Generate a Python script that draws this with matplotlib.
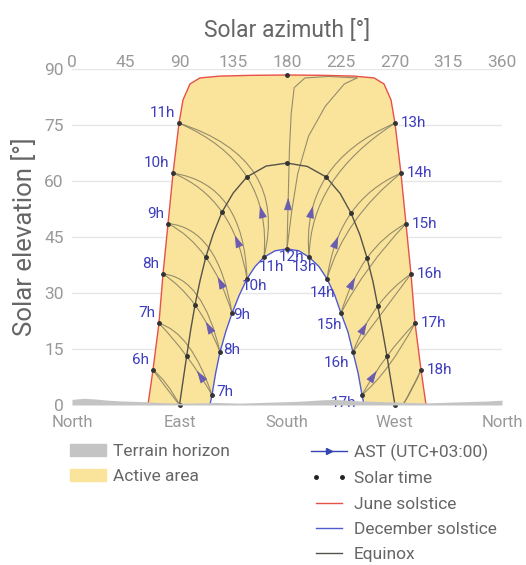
import numpy as np
import matplotlib.pyplot as plt
from matplotlib.path import Path
from matplotlib.patches import PathPatch, Patch
from matplotlib.lines import Line2D
from matplotlib.legend_handler import HandlerLine2D

plt.rcParams['font.family'] = ['Roboto', 'DejaVu Sans']

# Terrain horizon (azimuth, elevation)
terrain_az = [0, 10, 20, 30, 40, 50, 60, 70, 80, 90, 100, 110, 120, 130, 140, 150, 160, 170, 180,
              190, 200, 210, 220, 230, 240, 250, 260, 270, 280, 290, 300, 310, 320, 330, 340, 350, 360]
terrain_el = [1.5, 1.8, 1.6, 1.3, 1.1, 1.0, 0.9, 0.7, 0.6, 0.5, 0.5, 0.6, 0.7, 0.6, 0.5, 0.6, 0.7, 0.8, 0.9,
              1.0, 1.2, 1.4, 1.5, 1.3, 1.1, 1.0, 0.9, 0.8, 0.7, 0.6, 0.6, 0.7, 0.8, 0.9, 1.0, 1.1, 1.3]

# Day paths
june_az = [63.6, 67.8, 72.8, 76.2, 80.4, 84.6, 89.6, 92.9, 98.8, 107.0, 124.0, 150.0, 180.0,
           210.0, 236.0, 253.0, 261.2, 267.1, 270.4, 275.4, 279.6, 283.8, 287.2, 292.2, 296.4]
june_el = [0.0, 9.4, 21.9, 35.1, 48.6, 62.1, 75.5, 81.7, 86.0, 87.6, 88.1, 88.3, 88.4,
           88.3, 88.1, 87.6, 86.0, 81.7, 75.5, 62.1, 48.6, 35.1, 21.9, 9.4, 0.0]

dec_az = [115.5, 117.2, 120.3, 123.9, 128.7, 134.0, 140.0, 146.5, 153.3, 160.7, 170.0, 180.0,
          190.0, 198.5, 206.7, 213.5, 220.0, 225.2, 231.0, 235.2, 239.5, 242.8, 244.5]
dec_el = [0.0, 2.7, 8.6, 14.2, 19.6, 24.6, 29.4, 33.8, 37.1, 39.6, 41.3, 41.8,
          41.3, 39.6, 37.1, 33.8, 29.4, 24.6, 19.6, 14.2, 8.6, 2.7, 0.0]

equinox_az = [90.0, 93.0, 96.0, 99.3, 103.0, 107.2, 112.0, 118.2, 125.6, 135.0, 146.5, 162.5, 180.0,
              197.0, 212.7, 224.6, 233.6, 241.0, 247.0, 252.0, 256.0, 260.0, 263.7, 267.0, 270.4]
equinox_el = [0.0, 6.6, 13.1, 20.0, 26.8, 33.3, 39.6, 45.8, 51.7, 56.8, 61.1, 64.0, 64.8,
              63.9, 61.1, 56.6, 51.4, 45.6, 39.4, 33.0, 26.5, 19.8, 13.1, 6.5, 0.0]

# Solar time dots
june_dots = [(67.8, 9.4), (72.8, 21.9), (76.2, 35.1), (80.4, 48.6), (84.6, 62.1), (89.6, 75.5),
             (180.0, 88.4), (270.4, 75.5), (275.4, 62.1), (279.6, 48.6), (283.8, 35.1),
             (287.2, 21.9), (292.2, 9.4)]
dec_dots = [(117.2, 2.7), (123.9, 14.2), (134.0, 24.6), (146.5, 33.8), (160.7, 39.6), (180.0, 41.8),
            (198.5, 39.6), (213.5, 33.8), (225.2, 24.6), (235.2, 14.2), (242.8, 2.7)]
equinox_dots = [(90.0, 0.0), (96.0, 13.1), (103.0, 26.8), (112.0, 39.6), (125.6, 51.7), (146.5, 61.1),
                (180.0, 64.8), (212.7, 61.1), (233.6, 51.4), (247.0, 39.4), (256.0, 26.5),
                (263.7, 13.1), (270.4, 0.0)]

june_labels = ['6h', '7h', '8h', '9h', '10h', '11h', '', '13h', '14h', '15h', '16h', '17h', '18h']
dec_labels = ['7h', '8h', '9h', '10h', '11h', '12h', '13h', '14h', '15h', '16h', '17h']

# AST hour lines: two branches per hour (start, middle, end)
ast_start = [(67.8, 9.4), (72.8, 21.9), (76.2, 35.1), (80.4, 48.6), (84.6, 62.1), (89.6, 75.5),
             (270.4, 75.5), (275.4, 62.1), (279.6, 48.6), (283.8, 35.1), (287.2, 21.9), (292.2, 9.4)]
ast_mid_a = [(78.2, 4.9), (96.0, 13.1), (103.0, 26.8), (112.0, 39.6), (125.6, 51.7), (146.5, 61.1),
             (212.7, 61.1), (233.6, 51.4), (247.0, 39.4), (256.0, 26.5), (263.7, 13.1), (284.5, 4.4)]
ast_mid_b = [(79.4, 5.5), (97.4, 15.8), (104.8, 29.4), (114.7, 42.0), (129.8, 53.6), (153.2, 61.8),
             (216.9, 59.2), (236.3, 49.0), (248.8, 36.8), (257.5, 23.8), (265.0, 10.5), (285.6, 4.8)]
ast_end = [(90.0, 0.0), (117.2, 2.7), (123.9, 14.2), (134.0, 24.6), (146.5, 33.8), (160.7, 39.6),
           (198.5, 39.6), (213.5, 33.8), (225.2, 24.6), (235.2, 14.2), (242.8, 2.7), (277.0, 0.0)]

# 12h AST line, both branches
noon_a_az = [238.6, 215.0, 195.0, 186.0, 183.5, 182.0, 181.0, 180.0]
noon_a_el = [87.6, 88.0, 87.6, 85.0, 78.0, 68.0, 55.0, 41.8]
noon_b_az = [238.6, 228.0, 212.0, 198.0, 189.0, 184.0, 180.0]
noon_b_el = [87.6, 86.0, 80.0, 72.0, 62.0, 52.0, 41.8]

HOUR_COLOR = '#857d62'
ARROW_COLOR = '#6a5db0'
LABEL_COLOR = '#3d3dbf'
TEXT_COLOR = '#666666'
PX = 72 / 100


def bezier(p0, pm, p2):
    p0, pm, p2 = np.asarray(p0), np.asarray(pm), np.asarray(p2)
    c = 2 * pm - (p0 + p2) / 2
    return p0, c, p2


def draw_arrow(ax, pos, direction):
    tail = np.asarray(pos)
    tip = tail + 0.02 * np.asarray(direction)
    ax.annotate('', xy=tip, xytext=tail,
                arrowprops=dict(arrowstyle='-|>,head_length=1.1,head_width=0.35', color=ARROW_COLOR,
                                lw=0.6, shrinkA=0, shrinkB=0, mutation_scale=7), zorder=6)


def hour_label(ax, pos, text, dx, dy, ha='center'):
    ax.annotate(text, pos, xytext=(dx * PX, dy * PX), textcoords='offset points',
                ha=ha, va='center', color=LABEL_COLOR, fontsize=11, zorder=7)


fig = plt.figure(figsize=(5.26, 5.65), dpi=100)
ax = fig.add_axes([72 / 526, 160 / 565, 430 / 526, 336 / 565])

# active area between June and December paths
poly_az = june_az + dec_az[::-1]
poly_el = june_el + dec_el[::-1]
ax.fill(poly_az, poly_el, color='#fae49b', lw=0, zorder=1)

# hour lines
for i in range(len(ast_start)):
    for mid in (ast_mid_a[i], ast_mid_b[i]):
        p0, c, p2 = bezier(ast_start[i], mid, ast_end[i])
        path = Path([p0, c, p2], [Path.MOVETO, Path.CURVE3, Path.CURVE3])
        ax.add_patch(PathPatch(path, fill=False, edgecolor=HOUR_COLOR, lw=0.8, alpha=0.85, zorder=3))
    if 0 < i < len(ast_start) - 1:
        p0, c, p2 = bezier(ast_start[i], ast_mid_a[i], ast_end[i])
        t = 0.72
        pos = (1 - t) ** 2 * p0 + 2 * t * (1 - t) * c + t ** 2 * p2
        tangent = 2 * (1 - t) * (c - p0) + 2 * t * (p2 - c)
        draw_arrow(ax, pos, -tangent)

ax.plot(noon_a_az, noon_a_el, color=HOUR_COLOR, lw=0.8, alpha=0.85, zorder=3)
ax.plot(noon_b_az, noon_b_el, color=HOUR_COLOR, lw=0.8, alpha=0.85, zorder=3)
draw_arrow(ax, (noon_a_az[-2], noon_a_el[-2]),
           (noon_a_az[-3] - noon_a_az[-1], noon_a_el[-3] - noon_a_el[-1]))

ax.plot(equinox_az, equinox_el, color='#55524a', lw=1.0, zorder=4)
ax.plot(june_az, june_el, color='#e8504a', lw=1.0, zorder=4)
ax.plot(dec_az, dec_el, color='#4f5bd0', lw=1.0, zorder=4)

for dots in (june_dots, dec_dots, equinox_dots):
    ax.plot([d[0] for d in dots], [d[1] for d in dots], 'o', color='#333333', ms=2.5, zorder=5,
            clip_on=False)

# hour labels
for (az, el), lab in zip(june_dots, june_labels):
    if not lab:
        continue
    if az < 180:
        hour_label(ax, (az, el), lab, -4, 10, ha='right')
    else:
        hour_label(ax, (az, el), lab, 6, 0, ha='left')

dec_offsets = [(13, 3), (12, 2), (10, -2), (8, -7), (7, -10), (5, -8),
               (-5, -10), (-5, -14), (-11, -12), (-16, -11), (-19, -8)]
for (az, el), lab, (dx, dy) in zip(dec_dots, dec_labels, dec_offsets):
    hour_label(ax, (az, el), lab, dx, dy)

# terrain on top
ax.fill_between(terrain_az, 0, terrain_el, color='#c4c4c4', lw=0, zorder=8)

ax.set_xlim(0, 360)
ax.set_ylim(0, 90)
ax.set_yticks(range(0, 91, 15))
ax.set_xticks(range(0, 361, 45))
ax.xaxis.tick_top()
ax.xaxis.set_label_position('top')
ax.set_xlabel('Solar azimuth [°]', fontsize=16.5, color=TEXT_COLOR, labelpad=13)
ax.set_ylabel('Solar elevation [°]', fontsize=18.5, color=TEXT_COLOR, labelpad=5)
ax.tick_params(axis='y', length=0, colors='#999999', labelsize=12.5, pad=6)
ax.tick_params(axis='x', length=0, colors='#999999', labelsize=12.5, pad=-1)
ax.grid(axis='y', color='#e6e6e6', lw=1)
ax.set_axisbelow(True)
for s in ax.spines.values():
    s.set_visible(False)

sec = ax.secondary_xaxis('bottom')
sec.set_xticks([0, 90, 180, 270, 360], labels=['North', 'East', 'South', 'West', 'North'])
sec.tick_params(length=0, colors='#999999', labelsize=12, pad=7)
for s in sec.spines.values():
    s.set_visible(False)

left_handles = [Patch(color='#c4c4c4', label='Terrain horizon'),
                Patch(color='#fae49b', label='Active area')]
fig.legend(handles=left_handles, loc='upper left', bbox_to_anchor=(70 / 526, 1 - 444 / 565),
           frameon=False, fontsize=12.5, handlelength=2.1, handleheight=0.7, handletextpad=0.35,
           labelspacing=0.58, borderpad=0, borderaxespad=0, labelcolor=TEXT_COLOR)

ast_handle = Line2D([], [], color='#3444b0', lw=1, marker='>', ms=5, label='AST (UTC+03:00)')
right_handles = [ast_handle,
                 Line2D([], [], color='#222222', ls='none', marker='o', ms=2.5, label='Solar time'),
                 Line2D([], [], color='#e8504a', lw=1, label='June solstice'),
                 Line2D([], [], color='#4f5bd0', lw=1, label='December solstice'),
                 Line2D([], [], color='#55524a', lw=1, label='Equinox')]
fig.legend(handles=right_handles, loc='upper left', bbox_to_anchor=(311 / 526, 1 - 444 / 565),
           frameon=False, fontsize=12.5, handlelength=2.1, handletextpad=0.35, numpoints=2,
           labelspacing=0.58, borderpad=0, borderaxespad=0, labelcolor=TEXT_COLOR,
           handler_map={ast_handle: HandlerLine2D(numpoints=1)})

fig.savefig('out.png', dpi=100)
